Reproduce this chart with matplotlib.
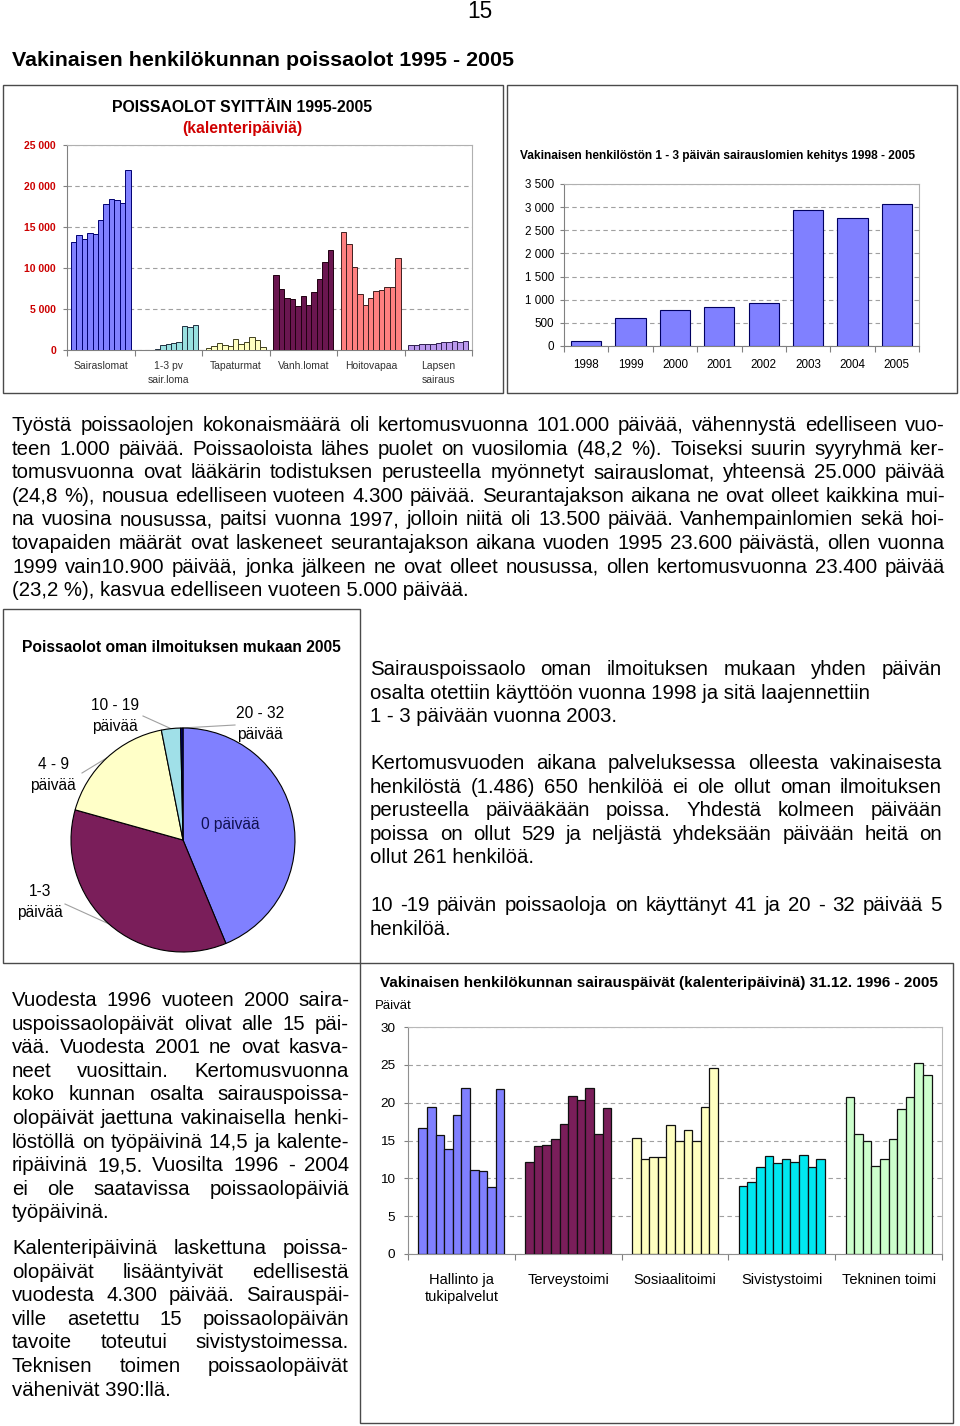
import matplotlib
matplotlib.use('Agg')
import matplotlib.pyplot as plt
from matplotlib.patches import Rectangle
from matplotlib.font_manager import FontProperties
from matplotlib.lines import Line2D
import numpy as np

FONT = 'Liberation Sans'
plt.rcParams['font.family'] = [FONT, 'DejaVu Sans']

# ---------------- data ----------------
years_1995_2005 = list(range(1995, 2006))
syy_categories = ['Sairaslomat', '1-3 pv\nsair.loma', 'Tapaturmat', 'Vanh.lomat',
                  'Hoitovapaa', 'Lapsen\nsairaus']
sairaslomat = [13200, 14000, 13500, 14300, 14200, 15900, 17800, 18400, 18250, 17900, 21900]
lyhyet_1995_1997 = [0, 0, 0]
tapaturmat = [300, 450, 800, 550, 450, 1300, 750, 1000, 1550, 1200, 350]
vanhempainlomat = [9150, 7450, 6400, 6200, 5400, 6600, 5500, 7050, 8650, 10700, 12250]
hoitovapaa = [14450, 12900, 10100, 6850, 5500, 6300, 7200, 7300, 7700, 7700, 11250]
lapsen_sairaus = [570, 650, 690, 690, 690, 810, 980, 940, 1140, 980, 1100]

years_1998_2005 = ['1998', '1999', '2000', '2001', '2002', '2003', '2004', '2005']
lyhyet_1998_2005 = [100, 615, 775, 850, 935, 2935, 2775, 3075]

pie_labels = ['0 päivää', '1-3\npäivää', '4 - 9\npäivää', '10 - 19\npäivää', '20 - 32\npäivää']
pie_values = [650, 529, 261, 41, 5]

toimialat = ['Hallinto ja\ntukipalvelut', 'Terveystoimi', 'Sosiaalitoimi',
             'Sivistystoimi', 'Tekninen toimi']
hallinto = [16.6, 19.4, 15.7, 13.85, 18.35, 22.0, 11.1, 10.95, 8.8, 21.75]
terveystoimi = [12.1, 14.25, 14.4, 15.2, 17.2, 20.9, 20.35, 22.0, 15.8, 19.25]
sosiaalitoimi = [15.3, 12.5, 12.8, 12.8, 17.0, 15.0, 16.45, 15.0, 19.4, 24.6]
sivistystoimi = [9.05, 9.55, 11.45, 13.0, 12.0, 12.5, 12.1, 13.1, 11.5, 12.5]
tekninen = [20.7, 15.8, 14.9, 11.6, 12.5, 15.2, 19.1, 20.7, 25.2, 23.7]

# ---------------- helpers ----------------
W, H = 960, 1426
fig = plt.figure(figsize=(W / 100, H / 100), dpi=100)
renderer = fig.canvas.get_renderer()


def fx(x):
    return x / W


def fy(y):
    return 1 - y / H


def axes_px(x0, y0, x1, y1):
    return fig.add_axes([x0 / W, 1 - y1 / H, (x1 - x0) / W, (y1 - y0) / H])


def box(x0, y0, x1, y1, color='#4a4a4a', lw=1.0):
    fig.add_artist(Rectangle((fx(x0), fy(y1)), (x1 - x0) / W, (y1 - y0) / H,
                             transform=fig.transFigure, fill=False, ec=color, lw=lw))


def text_w(s, size, weight='normal'):
    fp = FontProperties(family=FONT, size=size, weight=weight)
    w, h, d = renderer.get_text_width_height_descent(s, fp, ismath=False)
    return w


def fit(s, width, weight='normal'):
    return 10.0 * width / text_w(s, 10.0, weight)


def ftext(x, y, s, **kw):
    kw.setdefault('family', [FONT, 'DejaVu Sans'])
    return fig.text(fx(x), fy(y), s, **kw)


def paragraph(lines, just, x0, x1, base0, dy, size):
    for i, (line, j) in enumerate(zip(lines, just)):
        yb = base0 + i * dy
        words = line.split()
        if j and len(words) > 1:
            ws = [text_w(w, size) for w in words]
            gap = (x1 - x0 - sum(ws)) / (len(words) - 1)
            x = x0
            for w, wd in zip(words, ws):
                ftext(x, yb, w, fontsize=size, va='baseline', ha='left')
                x += wd + gap
        else:
            ftext(x0, yb, line, fontsize=size, va='baseline', ha='left')


def thousands(v):
    return f'{int(v):,}'.replace(',', ' ')


# ---------------- page header ----------------
ftext(480, 11, '15', fontsize=fit('15', 25), ha='center', va='center')
title = 'Vakinaisen henkilökunnan poissaolot 1995 - 2005'
ftext(12, 60, title, fontsize=fit(title, 500, 'bold'), fontweight='bold', ha='left', va='center')

# boxes
box(3, 85, 503, 393)
box(507, 85, 957, 393)
box(3, 609, 360, 963)
box(360, 963, 953, 1423)

GRID = dict(ls=(0, (4, 3)), color='#A0A0A0', lw=0.8, zorder=0)

# ---------------- chart 1 ----------------
t1 = 'POISSAOLOT SYITTÄIN 1995-2005'
ftext(242, 108, t1, fontsize=fit(t1, 260, 'bold'), fontweight='bold', ha='center', va='center')
t1b = '(kalenteripäiviä)'
ftext(242, 128, t1b, fontsize=fit(t1b, 120, 'bold'), fontweight='bold', color='#D00000',
      ha='center', va='center')

ax1 = axes_px(67, 145, 472, 350)
series1 = [sairaslomat, lyhyet_1995_1997 + lyhyet_1998_2005, tapaturmat,
           vanhempainlomat, hoitovapaa, lapsen_sairaus]
colors1 = ['#8080FF', '#99E0E0', '#FFFFC0', '#6A1650', '#FF8080', '#BB99EE']
edges1 = ['#000070', '#203040', '#404020', '#200010', '#402020', '#302050']
n1 = len(years_1995_2005)
gw1 = 0.89
bw1 = gw1 / n1
for i, (vals, col, ec) in enumerate(zip(series1, colors1, edges1)):
    xs = i - gw1 / 2 + bw1 * (np.arange(n1) + 0.5)
    ax1.bar(xs, vals, width=bw1, color=col, edgecolor=ec, linewidth=0.7, zorder=3)
ax1.set_xlim(-0.5, 5.5)
ax1.set_ylim(0, 25000)
yt1 = list(range(0, 25001, 5000))
ax1.set_yticks(yt1)
ax1.set_yticklabels([thousands(v) for v in yt1], color='#CC0000', fontweight='bold', fontsize=7.5)
ax1.set_xticks(range(len(syy_categories)))
ax1.set_xticklabels(syy_categories, fontsize=7.5, color='#333333', linespacing=1.45)
ax1.set_xticks(np.arange(-0.5, 6, 1), minor=True)
ax1.tick_params(axis='x', which='major', length=0, pad=8)
ax1.tick_params(axis='x', which='minor', length=4, color='#808080', width=0.8)
ax1.tick_params(axis='y', length=3, color='#808080', pad=5, width=0.8)
ax1.grid(axis='y', **GRID)
for s in ['top', 'right']:
    ax1.spines[s].set_color('#B0B0B0')
for s in ['left', 'bottom']:
    ax1.spines[s].set_color('#808080')

# ---------------- chart 2 ----------------
t2 = 'Vakinaisen henkilöstön 1 - 3 päivän sairauslomien kehitys 1998 - 2005'
ftext(717, 156, t2, fontsize=fit(t2, 394, 'bold'), fontweight='bold', ha='center', va='center')
ax2 = axes_px(564, 184, 919, 346)
ax2.bar(np.arange(len(years_1998_2005)), lyhyet_1998_2005, width=0.68, color='#8080FF',
        edgecolor='#000060', linewidth=0.8, zorder=3)
ax2.set_xlim(-0.5, 7.5)
ax2.set_ylim(0, 3500)
yt2 = list(range(0, 3501, 500))
ax2.set_yticks(yt2)
ax2.set_yticklabels([thousands(v) for v in yt2], fontsize=8.4)
ax2.set_xticks(range(len(years_1998_2005)))
ax2.set_xticklabels(years_1998_2005, fontsize=8.4)
ax2.set_xticks(np.arange(-0.5, 8, 1), minor=True)
ax2.tick_params(axis='x', which='major', length=0, pad=9)
ax2.tick_params(axis='x', which='minor', length=4, color='#808080', width=0.8)
ax2.tick_params(axis='y', length=3, color='#808080', pad=4, width=0.8)
ax2.grid(axis='y', **GRID)
for s in ['top', 'right']:
    ax2.spines[s].set_color('#B0B0B0')
for s in ['left', 'bottom']:
    ax2.spines[s].set_color('#808080')

# ---------------- paragraph 1 ----------------
BODY = 14.7
DY = 23.6
p1 = [
    'Työstä poissaolojen kokonaismäärä oli kertomusvuonna 101.000 päivää, vähennystä edelliseen vuo-',
    'teen 1.000 päivää. Poissaoloista lähes puolet on vuosilomia (48,2 %). Toiseksi suurin syyryhmä ker-',
    'tomusvuonna ovat lääkärin todistuksen perusteella myönnetyt sairauslomat, yhteensä 25.000 päivää',
    '(24,8 %), nousua edelliseen vuoteen 4.300 päivää. Seurantajakson aikana ne ovat olleet kaikkina mui-',
    'na vuosina nousussa, paitsi vuonna 1997, jolloin niitä oli 13.500 päivää. Vanhempainlomien sekä hoi-',
    'tovapaiden määrät ovat laskeneet seurantajakson aikana vuoden 1995 23.600 päivästä, ollen vuonna',
    '1999 vain10.900 päivää, jonka jälkeen ne ovat olleet nousussa, ollen kertomusvuonna 23.400 päivää',
    '(23,2 %), kasvua edelliseen vuoteen 5.000 päivää.',
]
paragraph(p1, [True] * 7 + [False], 12, 945, 431, DY, BODY)

# ---------------- pie ----------------
tp = 'Poissaolot oman ilmoituksen mukaan 2005'
ftext(181, 648, tp, fontsize=fit(tp, 319, 'bold'), fontweight='bold', ha='center', va='center')
CX, CY, R = 183, 840, 112
axp = axes_px(3, 660, 360, 960)
pie_colors = ['#8080FF', '#7A1E5A', '#FFFFC8', '#A0E0E8', '#000080']
wedges, _ = axp.pie(pie_values, colors=pie_colors, startangle=90, counterclock=False,
                    wedgeprops=dict(edgecolor='black', linewidth=0.8))
axp.set_xlim((3 - CX) / R, (360 - CX) / R)
axp.set_ylim(-(960 - CY) / R, (CY - 660) / R)
axp.set_aspect('auto')


def dpt(x, y):
    return ((x - CX) / R, (CY - y) / R)


label_pos = [(230, 824), (40, 902), (53, 775), (115, 716), (260, 724)]
leader_end = [None, (65, 904), (82, 773), (143, 716), (235, 725)]
for k, (lab, pos, le, wdg) in enumerate(zip(pie_labels, label_pos, leader_end, wedges)):
    axp.text(*dpt(*pos), lab, ha='center', va='center', fontsize=11.2, linespacing=1.45,
             color='#101050' if k == 0 else 'black', family=[FONT, 'DejaVu Sans'])
    if le is not None:
        mid = np.deg2rad((wdg.theta1 + wdg.theta2) / 2)
        ex, ey = dpt(*le)
        axp.add_line(Line2D([np.cos(mid), ex], [np.sin(mid), ey], color='#A0A0A0', lw=0.8,
                            zorder=0.5))

# ---------------- right text ----------------
pr1 = ['Sairauspoissaolo oman ilmoituksen mukaan yhden päivän',
       'osalta otettiin käyttöön vuonna 1998 ja sitä laajennettiin',
       '1 - 3 päivään vuonna 2003.']
paragraph(pr1, [True, False, False], 370, 942, 675, DY, BODY)
pr2 = ['Kertomusvuoden aikana palveluksessa olleesta vakinaisesta',
       'henkilöstä (1.486) 650 henkilöä ei ole ollut oman ilmoituksen',
       'perusteella päivääkään poissa. Yhdestä kolmeen päivään',
       'poissa on ollut 529 ja neljästä yhdeksään päivään heitä on',
       'ollut 261 henkilöä.']
paragraph(pr2, [True] * 4 + [False], 370, 942, 769, DY, BODY)
pr3 = ['10 -19 päivän poissaoloja on käyttänyt 41 ja 20 - 32 päivää 5',
       'henkilöä.']
paragraph(pr3, [True, False], 370, 942, 911, DY, BODY)

# ---------------- left bottom text ----------------
pl1 = ['Vuodesta 1996 vuoteen 2000 saira-',
       'uspoissaolopäivät olivat alle 15 päi-',
       'vää. Vuodesta 2001 ne ovat kasva-',
       'neet vuosittain. Kertomusvuonna',
       'koko kunnan osalta sairauspoissa-',
       'olopäivät jaettuna vakinaisella henki-',
       'löstöllä on työpäivinä 14,5 ja kalente-',
       'ripäivinä 19,5. Vuosilta 1996 - 2004',
       'ei ole saatavissa poissaolopäiviä',
       'työpäivinä.']
paragraph(pl1, [True] * 9 + [False], 12, 349, 1006, DY, BODY)
pl2 = ['Kalenteripäivinä laskettuna poissa-',
       'olopäivät lisääntyivät edellisestä',
       'vuodesta 4.300 päivää. Sairauspäi-',
       'ville asetettu 15 poissaolopäivän',
       'tavoite toteutui sivistystoimessa.',
       'Teknisen toimen poissaolopäivät',
       'vähenivät 390:llä.']
paragraph(pl2, [True] * 6 + [False], 12, 349, 1254, DY, BODY)

# ---------------- chart 3 ----------------
t3 = 'Vakinaisen henkilökunnan sairauspäivät (kalenteripäivinä) 31.12. 1996 - 2005'
ftext(659, 983, t3, fontsize=fit(t3, 554, 'bold'), fontweight='bold', ha='center', va='center')
ftext(375, 1006, 'Päivät', fontsize=fit('Päivät', 37), ha='left', va='center')
ax3 = axes_px(408, 1027, 942, 1254)
series3 = [hallinto, terveystoimi, sosiaalitoimi, sivistystoimi, tekninen]
colors3 = ['#8080FF', '#7A1E5A', '#FFFFC0', '#00E8F0', '#CCFFCC']
n3 = len(hallinto)
gw3 = 0.805
bw3 = gw3 / n3
for i, (vals, col) in enumerate(zip(series3, colors3)):
    xs = i - gw3 / 2 + bw3 * (np.arange(n3) + 0.5)
    ax3.bar(xs, vals, width=bw3, color=col, edgecolor='#101010', linewidth=0.9, zorder=3)
ax3.set_xlim(-0.5, 4.5)
ax3.set_ylim(0, 30)
ax3.set_yticks(range(0, 31, 5))
ax3.tick_params(axis='y', labelsize=9.7, length=3, color='#808080', pad=6, width=0.8)
ax3.set_xticks(range(len(toimialat)))
ax3.set_xticklabels(toimialat, fontsize=10.5, linespacing=1.2)
ax3.set_xticks(np.arange(-0.5, 5, 1), minor=True)
ax3.tick_params(axis='x', which='major', length=0, pad=14)
ax3.tick_params(axis='x', which='minor', length=4, color='#808080', width=0.8)
ax3.grid(axis='y', **GRID)
for s in ['top', 'right']:
    ax3.spines[s].set_color('#B8B8B8')
for s in ['left', 'bottom']:
    ax3.spines[s].set_color('#909090')

fig.savefig('out.png', dpi=100)
